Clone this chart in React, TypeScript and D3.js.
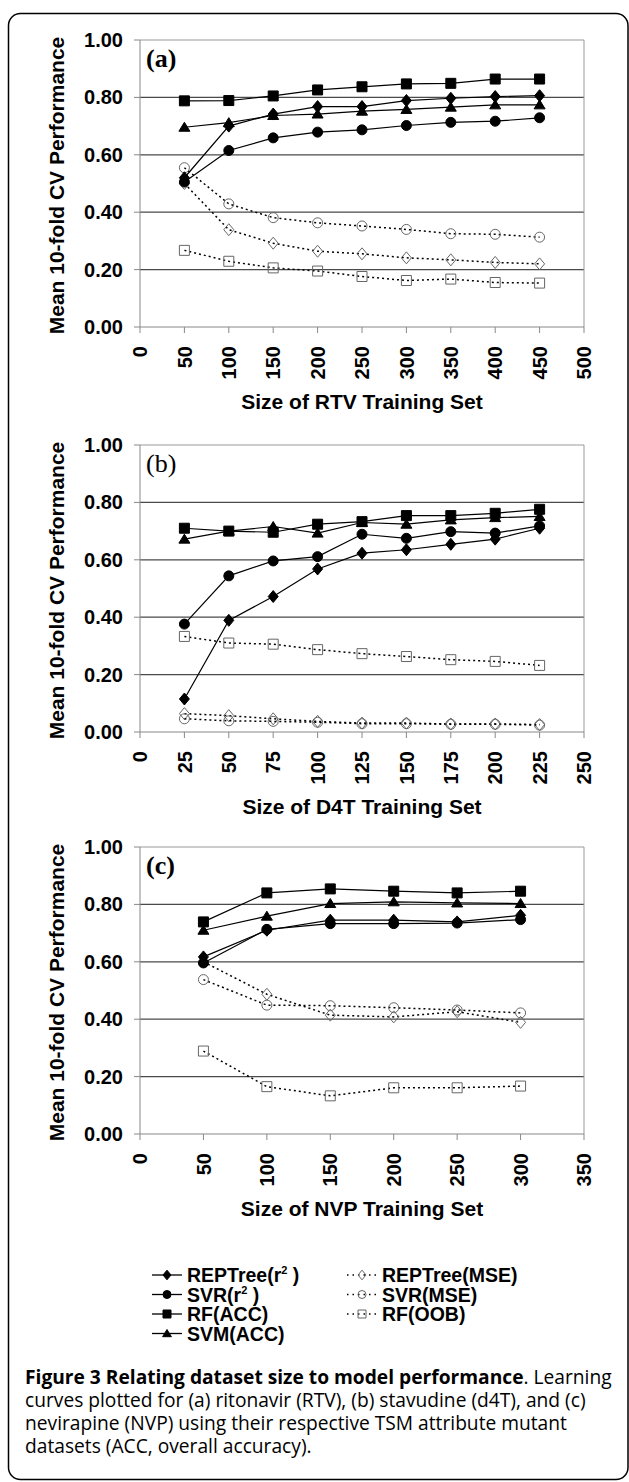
import React, { useEffect } from "react";
import * as d3 from "d3";

// ---- data ----
const seriesNames = [
  "REPTree(r2)",
  "SVR(r2)",
  "RF(ACC)",
  "SVM(ACC)",
  "REPTree(MSE)",
  "SVR(MSE)",
  "RF(OOB)",
];

// (a) ritonavir
const rtvSizes = [50, 100, 150, 200, 250, 300, 350, 400, 450];
const rtvRepTreeR2 = [0.52, 0.7, 0.742, 0.768, 0.768, 0.789, 0.797, 0.803, 0.806];
const rtvSvrR2 = [0.505, 0.615, 0.659, 0.679, 0.687, 0.702, 0.713, 0.717, 0.729];
const rtvRfAcc = [0.788, 0.789, 0.805, 0.826, 0.837, 0.847, 0.849, 0.864, 0.864];
const rtvSvmAcc = [0.696, 0.712, 0.737, 0.742, 0.752, 0.758, 0.766, 0.774, 0.774];
const rtvRepTreeMse = [0.5, 0.339, 0.292, 0.264, 0.255, 0.241, 0.234, 0.225, 0.22];
const rtvSvrMse = [0.555, 0.429, 0.381, 0.363, 0.352, 0.34, 0.325, 0.323, 0.313];
const rtvRfOob = [0.267, 0.229, 0.206, 0.195, 0.176, 0.162, 0.167, 0.155, 0.153];

// (b) stavudine
const d4tSizes = [25, 50, 75, 100, 125, 150, 175, 200, 225];
const d4tRepTreeR2 = [0.115, 0.389, 0.472, 0.568, 0.623, 0.635, 0.654, 0.672, 0.71];
const d4tSvrR2 = [0.376, 0.544, 0.596, 0.611, 0.689, 0.675, 0.698, 0.693, 0.718];
const d4tRfAcc = [0.71, 0.7, 0.696, 0.724, 0.733, 0.754, 0.754, 0.762, 0.776];
const d4tSvmAcc = [0.672, 0.7, 0.716, 0.693, 0.73, 0.724, 0.739, 0.747, 0.751];
const d4tRepTreeMse = [0.064, 0.057, 0.046, 0.037, 0.031, 0.031, 0.028, 0.028, 0.026];
const d4tSvrMse = [0.046, 0.039, 0.037, 0.034, 0.029, 0.029, 0.027, 0.027, 0.024];
const d4tRfOob = [0.333, 0.31, 0.306, 0.287, 0.273, 0.263, 0.252, 0.246, 0.232];

// (c) nevirapine
const nvpSizes = [50, 100, 150, 200, 250, 300];
const nvpRepTreeR2 = [0.617, 0.71, 0.745, 0.745, 0.739, 0.762];
const nvpSvrR2 = [0.596, 0.713, 0.733, 0.733, 0.735, 0.747];
const nvpRfAcc = [0.739, 0.84, 0.854, 0.846, 0.84, 0.846];
const nvpSvmAcc = [0.71, 0.759, 0.803, 0.809, 0.805, 0.803];
const nvpRepTreeMse = [0.6, 0.487, 0.414, 0.408, 0.426, 0.389];
const nvpSvrMse = [0.538, 0.449, 0.447, 0.44, 0.432, 0.422];
const nvpRfOob = [0.289, 0.165, 0.133, 0.161, 0.161, 0.167];

const yTicks = [0, 0.2, 0.4, 0.6, 0.8, 1.0];

const captionLines = [
  "curves plotted for (a) ritonavir (RTV), (b) stavudine (d4T), and (c)",
  "nevirapine (NVP) using their respective TSM attribute mutant",
  "datasets (ACC, overall accuracy).",
];

// marker style per series
const shapes = ["diamond", "circle", "square", "triangle", "diamond", "circle", "square"];
const filled = [true, true, true, true, false, false, false];

const FONT = "'Liberation Sans', Arial, sans-serif";

const plotLeft = 140;
const plotRight = 584;
const plotH = 287;

function markerPath(shape: string, s: number) {
  const h = s / 2;
  if (shape === "square") return `M${-h},${-h}H${h}V${h}H${-h}Z`;
  if (shape === "diamond") return `M0,${-h * 1.2}L${h},0L0,${h * 1.2}L${-h},0Z`;
  if (shape === "triangle") return `M0,${-h}L${h * 1.1},${h * 0.8}L${-h * 1.1},${h * 0.8}Z`;
  return d3.symbol(d3.symbolCircle, Math.PI * h * h)() as string;
}

function Marker({ shape, full, x, y, s }: any) {
  return (
    <path
      d={markerPath(shape, s)}
      transform={`translate(${x},${y})`}
      fill={full ? "#000" : "none"}
      stroke={full ? "#000" : "#666"}
      strokeWidth={1}
    />
  );
}

function Panel({ top, sizes, xMax, xStep, values, label, labelBold, title }: any) {
  const x = d3.scaleLinear().domain([0, xMax]).range([plotLeft, plotRight]);
  const y = d3.scaleLinear().domain([0, 1]).range([top + plotH, top]);
  const xTicks = d3.range(0, xMax + 1, xStep);
  const bottom = top + plotH;
  const order = [4, 5, 6, 0, 1, 2, 3];

  return (
    <g>
      {/* grid */}
      {yTicks.slice(1, 5).map((t) => (
        <line key={t} x1={plotLeft} x2={plotRight} y1={y(t)} y2={y(t)} stroke="#4a4a4a" strokeWidth={1.2} />
      ))}
      <line x1={plotLeft} x2={plotRight} y1={top} y2={top} stroke="#999" />
      <line x1={plotRight} x2={plotRight} y1={top} y2={bottom} stroke="#999" />
      <line x1={plotLeft} x2={plotLeft} y1={top} y2={bottom} stroke="#888" />
      <line x1={plotLeft} x2={plotRight} y1={bottom} y2={bottom} stroke="#888" />
      {yTicks.map((t) => (
        <g key={t}>
          <line x1={plotLeft - 6} x2={plotLeft} y1={y(t)} y2={y(t)} stroke="#888" />
          <text
            x={plotLeft - 17}
            y={y(t) + 7}
            textAnchor="end"
            fontFamily={FONT}
            fontWeight="bold"
            fontSize={20}
          >
            {t.toFixed(2)}
          </text>
        </g>
      ))}
      {xTicks.map((t) => (
        <g key={t}>
          <line x1={x(t)} x2={x(t)} y1={bottom} y2={bottom + 6} stroke="#888" />
          <text
            transform={`translate(${x(t)},${bottom + 19}) rotate(-90)`}
            textAnchor="end"
            dy="0.36em"
            fontFamily={FONT}
            fontWeight="bold"
            fontSize={20}
          >
            {t}
          </text>
        </g>
      ))}
      <text
        x={plotLeft + 6}
        y={top + 27}
        fontFamily="'Liberation Serif', 'Times New Roman', serif"
        fontWeight={labelBold ? "bold" : "normal"}
        fontSize={26}
      >
        {label}
      </text>
      <text
        x={(plotLeft + plotRight) / 2}
        y={bottom + 82}
        textAnchor="middle"
        fontFamily={FONT}
        fontWeight="bold"
        fontSize={21}
      >
        {title}
      </text>
      <text
        transform={`translate(64,${top + plotH / 2 + 2}) rotate(-90)`}
        textAnchor="middle"
        fontFamily={FONT}
        fontWeight="bold"
        fontSize={21}
      >
        Mean  10-fold CV Performance
      </text>
      {order.map((i) => {
        const ln = d3
          .line<number>()
          .x((_, k) => x(sizes[k]))
          .y((v) => y(v));
        return (
          <g key={seriesNames[i]}>
            <path
              d={ln(values[i]) as string}
              fill="none"
              stroke="#000"
              strokeWidth={filled[i] ? 1.2 : 1.5}
              strokeDasharray={filled[i] ? undefined : "2,3"}
            />
            {values[i].map((v: number, k: number) => (
              <Marker key={k} shape={shapes[i]} full={filled[i]} x={x(sizes[k])} y={y(v)} s={10} />
            ))}
          </g>
        );
      })}
    </g>
  );
}

function LegendItem({ i, x, y }: any) {
  const full = filled[i];
  const base = seriesNames[i];
  const isR2 = base.endsWith("(r2)");
  return (
    <g>
      <line
        x1={x}
        x2={x + 30}
        y1={y}
        y2={y}
        stroke="#000"
        strokeWidth={1.3}
        strokeDasharray={full ? undefined : "1.5,4"}
      />
      <Marker shape={shapes[i]} full={full} x={x + 15} y={y} s={8} />
      <text x={x + 35} y={y + 7} fontFamily={FONT} fontWeight="bold" fontSize={19.5}>
        {isR2 ? (
          <>
            {base.replace("r2)", "r")}
            <tspan fontSize={11} dy={-8}>2</tspan>
            <tspan dy={8}> )</tspan>
          </>
        ) : (
          base
        )}
      </text>
    </g>
  );
}

export default function App() {
  useEffect(() => {
    document.body.style.margin = "0";
  }, []);

  const rtv = [rtvRepTreeR2, rtvSvrR2, rtvRfAcc, rtvSvmAcc, rtvRepTreeMse, rtvSvrMse, rtvRfOob];
  const d4t = [d4tRepTreeR2, d4tSvrR2, d4tRfAcc, d4tSvmAcc, d4tRepTreeMse, d4tSvrMse, d4tRfOob];
  const nvp = [nvpRepTreeR2, nvpSvrR2, nvpRfAcc, nvpSvmAcc, nvpRepTreeMse, nvpSvrMse, nvpRfOob];

  const legendRows = [1275, 1294.5, 1314, 1333.5];

  return (
    <svg width={629} height={1482} style={{ display: "block", position: "absolute", left: 0, top: 0 }}>
      <rect x={0} y={0} width={629} height={1482} fill="#fff" />
      <rect x={8.5} y={13.5} width={619.5} height={1466} rx={12} fill="none" stroke="#000" strokeWidth={1.5} />

      <Panel top={40} sizes={rtvSizes} xMax={500} xStep={50} values={rtv} label="(a)" labelBold title="Size of RTV Training Set" />
      <Panel top={445} sizes={d4tSizes} xMax={250} xStep={25} values={d4t} label="(b)" labelBold={false} title="Size of D4T Training Set" />
      <Panel top={847} sizes={nvpSizes} xMax={350} xStep={50} values={nvp} label="(c)" labelBold title="Size of NVP Training Set" />

      {[0, 1, 2, 3].map((i) => (
        <LegendItem key={i} i={i} x={152} y={legendRows[i]} />
      ))}
      {[4, 5, 6].map((i) => (
        <LegendItem key={i} i={i} x={347} y={legendRows[i - 4]} />
      ))}

      <text x={25} y={1384} fontFamily="'Open Sans', sans-serif" fontSize={19.2}>
        <tspan fontWeight="bold">Figure 3 Relating dataset size to model performance</tspan>
        <tspan>. Learning</tspan>
      </text>
      {captionLines.map((t, k) => (
        <text key={k} x={25} y={1407 + k * 23} fontFamily="'Open Sans', sans-serif" fontSize={19.2}>
          {t}
        </text>
      ))}
    </svg>
  );
}
